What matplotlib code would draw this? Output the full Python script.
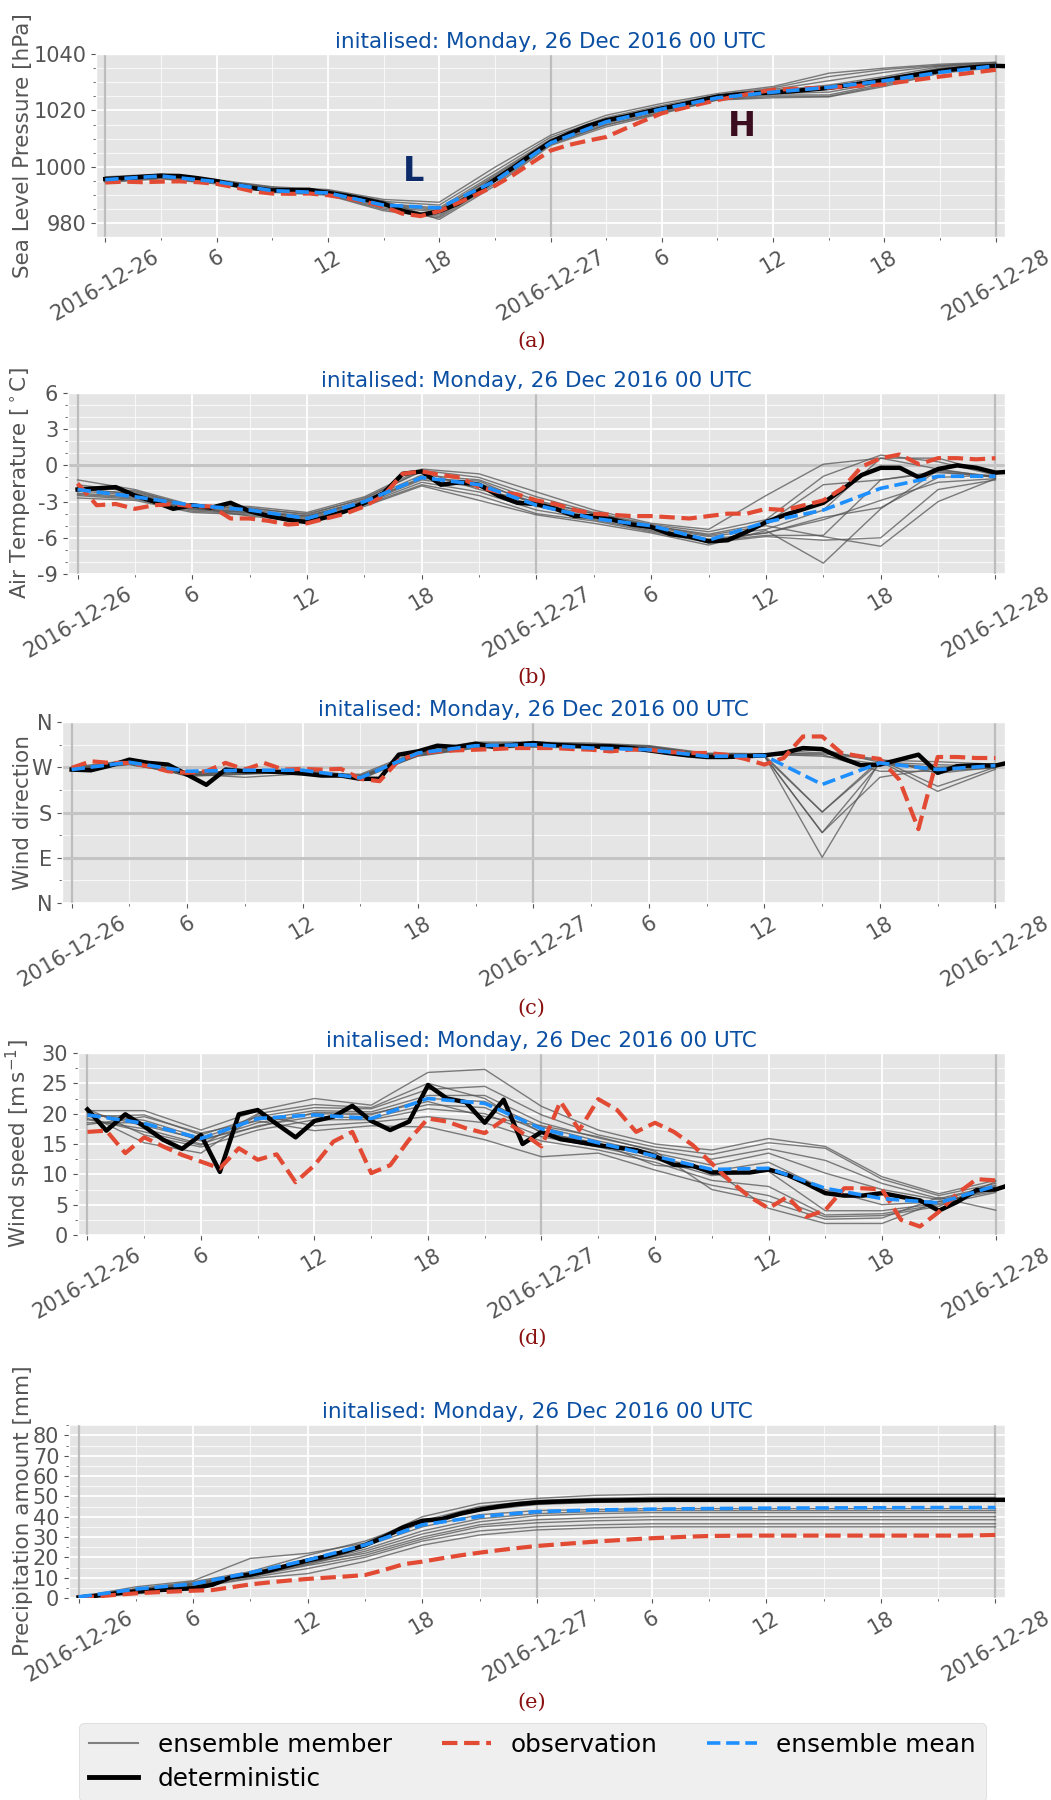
import numpy as np
import matplotlib
matplotlib.use('Agg')
import matplotlib.pyplot as plt
from matplotlib.ticker import MultipleLocator
from matplotlib.lines import Line2D

plt.style.use('ggplot')
plt.rcParams['axes.unicode_minus'] = False

##################### PLOT SETTINGS #####################
title_text = 'initalised: Monday, 26 Dec 2016 00 UTC'
title_color = '#0b4fa3'
caption_color = '#8b1010'
member_color = '#555555'
obs_color = '#e24a33'
mean_color = '#1e8fff'
tick_size = 15
label_size = 15.5
W, H = 1051, 1800
###################################################################

# lead time [h] after 26 Dec 2016 00 UTC
det_hours = list(range(50))
obs_hours = list(range(49))
ens_hours = list(range(0, 49, 3))
xtick_hours = [0, 6, 12, 18, 24, 30, 36, 42, 48]
xtick_labels = ['2016-12-26', '6', '12', '18', '2016-12-27', '6', '12', '18', '2016-12-28']

# ---------------- (a) sea level pressure [hPa] ----------------
slp_members = [
    [996.5, 997.5, 995.5, 993.0, 992.0, 988.5, 987.5, 999.9, 1011.2, 1018.3, 1022.5, 1026.0, 1028.5, 1033.2, 1035.0, 1036.4, 1037.1],
    [996.0, 997.2, 995.2, 992.5, 991.8, 987.8, 986.5, 998.5, 1010.5, 1017.5, 1021.8, 1025.5, 1028.0, 1032.0, 1034.5, 1036.0, 1037.0],
    [995.8, 997.0, 995.0, 992.2, 991.5, 987.0, 985.5, 997.5, 1009.8, 1017.0, 1021.2, 1025.2, 1027.5, 1030.5, 1033.5, 1035.8, 1036.8],
    [995.5, 996.8, 994.8, 992.0, 991.0, 986.5, 984.5, 997.0, 1009.5, 1016.5, 1020.8, 1024.8, 1027.0, 1029.0, 1032.0, 1035.5, 1036.5],
    [995.2, 996.5, 994.6, 991.8, 990.8, 986.0, 984.0, 996.0, 1009.0, 1016.0, 1020.5, 1024.5, 1026.5, 1027.5, 1031.0, 1035.0, 1036.2],
    [995.0, 996.3, 994.4, 991.5, 990.5, 985.5, 983.0, 995.5, 1008.5, 1015.5, 1020.0, 1024.2, 1026.0, 1026.5, 1030.0, 1034.5, 1036.0],
    [994.8, 996.0, 994.2, 991.2, 990.2, 985.0, 982.5, 995.0, 1008.2, 1015.0, 1019.5, 1024.0, 1025.5, 1025.5, 1029.5, 1034.0, 1035.8],
    [994.5, 995.8, 994.0, 991.0, 990.0, 984.5, 982.0, 994.0, 1008.0, 1014.8, 1019.2, 1023.8, 1025.0, 1025.0, 1029.0, 1033.5, 1035.5],
    [996.2, 997.3, 995.3, 992.8, 991.6, 988.0, 981.4, 993.3, 1007.6, 1014.2, 1018.9, 1023.7, 1024.5, 1024.8, 1028.5, 1033.2, 1035.2],
    [995.6, 996.9, 994.9, 992.1, 991.2, 986.8, 985.0, 996.5, 1009.2, 1016.2, 1020.6, 1024.6, 1026.8, 1028.2, 1031.5, 1034.8, 1036.2],
]
slp_mean = [995.5, 996.8, 994.8, 991.6, 990.8, 986.5, 985.5, 995.0, 1008.5, 1016.0, 1020.5,
            1024.5, 1026.5, 1028.2, 1030.5, 1033.5, 1035.8]
slp_det = [995.7, 996.1, 996.5, 996.9, 996.8, 996.0, 995.0, 993.6, 992.5, 991.7,
           991.8, 991.9, 990.8, 989.8, 988.5, 987.0, 984.5, 983.0, 984.3, 987.0,
           991.0, 995.5, 999.8, 1004.5, 1008.8, 1011.8, 1014.5, 1016.5, 1017.8, 1019.3,
           1020.7, 1022.0, 1023.5, 1024.9, 1025.6, 1026.1, 1026.4, 1026.8, 1027.4, 1028.0,
           1028.9, 1029.8, 1030.8, 1031.9, 1033.0, 1034.0, 1034.8, 1035.4, 1035.8, 1035.6]
slp_obs = [994.5, 994.8, 994.6, 994.8, 994.9, 994.6, 994.0, 992.8, 991.3, 990.6,
           990.5, 990.6, 990.0, 989.0, 987.7, 986.0, 983.5, 982.6, 984.4, 987.2,
           990.2, 993.3, 997.2, 1001.5, 1005.8, 1007.8, 1009.3, 1010.6, 1013.5, 1016.3,
           1019.0, 1020.6, 1022.2, 1023.7, 1025.0, 1026.3, 1027.3, 1027.6, 1027.9, 1028.1,
           1028.5, 1028.9, 1029.3, 1030.2, 1031.1, 1032.0, 1032.8, 1033.6, 1034.4]

# ---------------- (b) air temperature [C] ----------------
t2m_members = [
    [-1.2, -2.0, -3.3, -3.4, -3.9, -2.6, -0.3, -0.7, -2.2, -3.7, -4.8, -5.3, -2.5, 0.1, 0.6, 0.6, -0.7],
    [-1.6, -2.2, -3.4, -3.6, -4.0, -2.8, -0.4, -1.0, -2.6, -3.9, -4.9, -5.5, -4.5, -0.9, 0.85, 0.3, -0.8],
    [-1.9, -2.4, -3.5, -3.7, -4.2, -2.9, -0.8, -1.2, -2.9, -4.0, -5.0, -5.7, -4.8, -1.6, -1.2, -0.6, -0.9],
    [-2.1, -2.5, -3.6, -3.8, -4.3, -3.0, -1.0, -1.5, -3.1, -4.2, -5.1, -5.9, -5.3, -3.7, 0.6, -0.3, -1.0],
    [-2.3, -2.6, -3.7, -3.9, -4.4, -3.1, -1.2, -1.8, -3.4, -4.3, -5.2, -6.1, -5.6, -4.5, -2.9, -1.4, -1.1],
    [-2.5, -2.8, -3.8, -4.0, -4.5, -3.2, -1.4, -2.2, -3.7, -4.5, -5.4, -6.3, -5.8, -5.8, -1.2, -0.5, -1.0],
    [-2.7, -2.9, -3.9, -4.1, -4.6, -3.3, -1.6, -2.5, -4.0, -4.6, -5.5, -6.4, -5.9, -6.2, -6.0, -2.0, -1.2],
    [-2.0, -2.3, -3.5, -4.2, -4.7, -3.4, -1.7, -2.9, -4.1, -4.8, -5.6, -6.6, -5.4, -8.1, -3.6, -0.4, -0.9],
    [-1.8, -2.1, -3.4, -3.5, -4.1, -2.7, -0.5, -2.0, -3.0, -4.0, -5.0, -5.8, -5.0, -5.9, -6.7, -3.0, -1.1],
    [-2.4, -2.7, -3.6, -3.9, -4.2, -3.0, -1.1, -1.3, -3.3, -4.4, -5.3, -6.2, -5.6, -4.3, -3.5, -1.0, -0.8],
]
t2m_mean = [-2.0, -2.6, -3.3, -3.7, -4.4, -3.0, -1.0, -1.6, -3.3, -4.4, -5.0, -6.2, -4.7, -3.7, -1.9, -0.9, -0.9]
t2m_det = [-2.0, -1.9, -1.8, -2.5, -3.0, -3.6, -3.3, -3.5, -3.1, -3.8,
           -4.2, -4.5, -4.7, -4.3, -3.8, -3.1, -2.3, -0.7, -0.5, -1.6,
           -1.4, -1.6, -2.5, -3.1, -3.2, -3.6, -4.2, -4.2, -4.5, -4.9,
           -5.1, -5.7, -5.9, -6.3, -6.2, -5.5, -4.7, -4.1, -3.6, -3.1,
           -2.0, -0.8, -0.2, -0.2, -1.0, -0.3, 0.0, -0.2, -0.6, -0.5]
t2m_obs = [-1.5, -3.3, -3.2, -3.6, -3.3, -3.2, -3.4, -3.4, -4.4, -4.4,
           -4.6, -4.9, -4.8, -4.4, -4.0, -3.4, -2.5, -0.7, -0.5, -0.8,
           -1.0, -1.8, -2.2, -2.4, -2.9, -3.2, -3.7, -4.0, -4.1, -4.2,
           -4.2, -4.3, -4.4, -4.2, -4.0, -4.0, -3.6, -3.7, -3.3, -2.9,
           -1.9, -0.1, 0.6, 0.9, 0.1, 0.6, 0.6, 0.5, 0.6]

# ---------------- (c) wind direction [deg] ----------------
wdir_members = [
    [268, 278, 258, 262, 262, 250, 300, 318, 318, 316, 312, 297, 296, 305, 280, 265, 268],
    [266, 276, 256, 258, 260, 252, 298, 315, 315, 313, 310, 296, 295, 300, 286, 258, 270],
    [264, 280, 260, 260, 258, 248, 296, 312, 314, 312, 308, 294, 294, 181, 280, 275, 272],
    [262, 282, 254, 264, 264, 246, 294, 310, 312, 310, 306, 292, 292, 140, 278, 270, 274],
    [270, 284, 252, 256, 261, 254, 292, 308, 310, 308, 304, 290, 293, 91, 282, 222, 266],
    [265, 275, 257, 250, 257, 256, 302, 320, 320, 318, 313, 298, 297, 297, 284, 281, 276],
    [267, 279, 259, 263, 263, 249, 297, 314, 316, 314, 309, 295, 294, 295, 262, 262, 270],
    [263, 277, 255, 259, 259, 251, 295, 311, 313, 311, 307, 293, 292, 140, 250, 268, 275],
    [269, 281, 261, 261, 265, 253, 299, 316, 317, 315, 311, 296, 296, 292, 276, 268, 272],
    [266, 283, 253, 257, 262, 247, 293, 309, 311, 309, 305, 291, 291, 181, 285, 232, 270],
]
wdir_mean = [265.4, 279.9, 262.1, 264.1, 264.1, 249.0, 298.3, 312.8, 314.8, 308.2, 304.9,
             291.7, 293.0, 235.8, 278.6, 265.4, 273.3]
wdir_det = [265.4, 264.0, 273.3, 285.1, 278.6, 275.3, 255.5, 235.1, 265.4, 262.1,
            262.1, 260.1, 257.5, 253.5, 253.5, 247.0, 247.0, 295.0, 301.6, 312.8,
            310.2, 316.8, 310.2, 314.8, 318.1, 314.8, 312.8, 311.5, 311.5, 308.2,
            303.6, 298.3, 293.7, 290.4, 290.4, 291.7, 293.7, 298.3, 308.2, 306.2,
            288.4, 274.0, 275.3, 285.1, 295.0, 258.8, 272.0, 274.0, 273.3, 281.9]
wdir_obs = [268.7, 281.9, 278.6, 278.6, 272.0, 262.1, 258.8, 262.1, 278.6, 265.4,
            278.6, 265.4, 266.7, 265.4, 266.7, 247.0, 242.3, 283.8, 297.0, 301.6,
            303.6, 304.9, 306.2, 308.2, 308.2, 308.2, 306.2, 304.9, 301.6, 304.9,
            304.9, 300.3, 298.3, 298.3, 295.0, 286.5, 275.3, 288.4, 331.2, 331.2,
            298.3, 291.7, 286.5, 245.6, 146.9, 290.4, 290.4, 288.4, 288.4]

# ---------------- (d) wind speed [m/s] ----------------
wspd_members = [
    [20.5, 20.5, 17.3, 20.5, 22.5, 21.4, 26.8, 27.3, 21.2, 17.3, 15.0, 14.0, 15.9, 14.6, 9.6, 6.8, 9.0],
    [19.5, 19.8, 16.5, 19.5, 21.0, 20.8, 24.0, 24.5, 19.8, 16.5, 14.5, 13.3, 15.2, 14.3, 9.2, 6.5, 8.5],
    [20.0, 18.9, 16.0, 19.0, 20.5, 20.3, 23.0, 23.0, 18.5, 16.0, 14.0, 12.5, 14.2, 12.3, 8.5, 6.0, 8.2],
    [18.5, 18.5, 15.5, 18.5, 20.0, 19.8, 22.5, 22.0, 17.8, 15.5, 13.5, 11.5, 13.5, 10.2, 7.5, 5.8, 8.0],
    [19.0, 17.5, 15.0, 18.0, 19.5, 19.3, 21.5, 21.0, 17.0, 15.0, 13.0, 10.5, 12.0, 7.5, 5.0, 5.5, 7.5],
    [20.8, 16.5, 14.5, 17.3, 19.0, 19.0, 20.8, 20.0, 16.2, 14.5, 12.5, 9.8, 10.5, 4.0, 4.0, 5.2, 7.8],
    [19.8, 15.2, 13.5, 19.8, 18.0, 18.6, 19.5, 18.5, 15.5, 14.0, 12.0, 9.0, 8.0, 3.3, 3.5, 5.0, 7.0],
    [18.2, 19.5, 16.8, 18.8, 17.2, 18.0, 17.8, 15.7, 12.9, 13.5, 10.7, 8.2, 6.5, 3.0, 3.2, 4.7, 8.8],
    [20.2, 18.0, 15.8, 17.8, 20.2, 20.0, 22.0, 19.5, 18.0, 16.2, 13.8, 7.5, 5.5, 2.6, 2.8, 6.2, 4.1],
    [19.2, 17.0, 14.8, 20.0, 21.5, 21.0, 25.0, 22.5, 16.8, 15.2, 11.5, 10.8, 4.4, 1.9, 1.9, 5.5, 7.2],
]
wspd_mean = [19.8, 18.4, 15.9, 19.2, 19.8, 19.2, 22.5, 21.7, 17.5, 15.2, 13.0, 10.8, 11.0, 7.7, 6.0, 5.3, 8.1]
wspd_det = [20.7, 17.2, 19.9, 17.9, 15.7, 14.2, 16.5, 10.4, 19.9, 20.6,
            18.3, 16.1, 18.8, 19.5, 21.3, 18.8, 17.3, 18.7, 24.7, 22.5,
            21.9, 18.5, 22.3, 15.0, 17.0, 15.8, 15.3, 14.8, 14.4, 14.0,
            13.0, 11.6, 11.4, 10.3, 10.3, 10.3, 10.8, 9.9, 8.5, 6.9,
            6.5, 6.5, 6.9, 6.3, 5.7, 4.0, 5.5, 7.4, 7.5, 8.5]
wspd_obs = [17.0, 17.2, 13.5, 16.1, 14.6, 13.2, 12.1, 11.0, 14.3, 12.4,
            13.3, 8.7, 11.5, 15.4, 17.0, 10.2, 11.5, 15.7, 19.2, 18.7,
            17.6, 16.8, 19.0, 16.8, 14.6, 22.0, 17.3, 22.4, 20.6, 17.0,
            18.5, 17.0, 14.8, 11.8, 8.8, 6.3, 4.4, 6.3, 3.0, 4.1,
            7.7, 7.7, 7.5, 2.5, 1.4, 3.8, 6.9, 9.2, 9.0]

# ---------------- (e) accumulated precipitation [mm] ----------------
prec_members = [
    [0.5, 5.5, 8.5, 19.5, 22.0, 27.0, 40.0, 46.5, 49.0, 50.5, 51.0, 51.0, 51.0, 51.0, 51.0, 51.0, 51.0],
    [0.4, 4.5, 8.0, 13.0, 21.0, 28.0, 38.0, 45.0, 48.0, 49.0, 49.5, 49.5, 49.5, 49.5, 49.5, 49.5, 49.5],
    [0.3, 4.0, 7.5, 12.5, 19.0, 26.0, 37.0, 43.0, 46.0, 47.0, 47.5, 47.5, 47.5, 47.5, 47.5, 47.5, 47.5],
    [0.5, 4.5, 7.0, 12.0, 18.0, 25.5, 35.0, 41.0, 43.0, 43.5, 44.0, 44.0, 44.0, 44.0, 44.0, 44.0, 44.0],
    [0.2, 3.5, 6.5, 11.5, 17.0, 24.0, 33.0, 39.0, 41.5, 42.5, 43.0, 43.0, 43.0, 43.0, 43.0, 43.0, 43.0],
    [0.4, 3.0, 6.0, 11.0, 16.5, 23.0, 31.5, 37.5, 40.5, 41.5, 42.0, 42.0, 42.0, 42.0, 42.0, 42.0, 42.0],
    [0.3, 3.5, 7.0, 12.0, 17.5, 22.0, 30.0, 36.0, 38.5, 39.5, 40.0, 40.0, 40.0, 40.0, 40.0, 40.0, 40.0],
    [0.2, 3.0, 6.5, 10.5, 16.0, 21.0, 29.0, 35.0, 37.0, 38.0, 38.5, 38.5, 38.5, 38.5, 38.5, 38.5, 38.5],
    [0.1, 2.5, 5.5, 10.0, 14.5, 20.0, 28.0, 33.0, 35.0, 36.0, 36.5, 36.5, 36.5, 36.5, 36.5, 36.5, 36.5],
    [0.1, 2.0, 5.0, 9.5, 12.0, 18.0, 26.0, 31.0, 33.5, 34.5, 35.0, 35.0, 35.0, 35.0, 35.0, 35.0, 35.0],
]
prec_mean = [0.5, 4.4, 6.9, 12.5, 18.7, 26.1, 36.0, 40.1, 42.5, 43.3, 43.7, 44.0, 44.2, 44.3, 44.4, 44.5, 44.5]
prec_det = [0.3, 1.2, 2.3, 3.2, 3.8, 4.3, 4.8, 6.5, 10.2, 11.5,
            13.5, 16.0, 18.5, 20.5, 23.0, 26.0, 30.0, 34.8, 38.0, 38.8,
            41.5, 43.5, 45.0, 46.2, 47.0, 47.4, 47.7, 47.9, 48.0, 48.1,
            48.2, 48.3, 48.3, 48.3, 48.3, 48.3, 48.3, 48.3, 48.3, 48.3,
            48.3, 48.3, 48.3, 48.3, 48.3, 48.3, 48.3, 48.3, 48.3, 48.3]
prec_obs = [0.0, 0.8, 1.6, 2.3, 2.8, 3.2, 3.6, 3.9, 5.3, 6.7,
            7.7, 8.6, 9.4, 10.0, 10.6, 11.3, 13.8, 16.6, 17.9, 19.5,
            21.0, 22.3, 23.5, 24.6, 25.6, 26.3, 27.0, 27.7, 28.3, 28.9,
            29.4, 29.8, 30.2, 30.5, 30.6, 30.7, 30.7, 30.7, 30.7, 30.7,
            30.7, 30.7, 30.7, 30.7, 30.7, 30.7, 30.7, 30.8, 31.0]


def rect(left, right, top, bottom):
    # pixel box -> figure fraction
    return [left / W, 1 - bottom / H, (right - left) / W, (bottom - top) / H]


panels = [
    dict(members=slp_members, mean=slp_mean, det=slp_det, obs=slp_obs,
         ylabel='Sea Level Pressure [hPa]', ylim=(975.2, 1040), yticks=[980, 1000, 1020, 1040],
         yticklabels=None, yminor=5, box=rect(96, 1005, 54, 237), hlines=[],
         caption='(a)', caption_y=341),
    dict(members=t2m_members, mean=t2m_mean, det=t2m_det, obs=t2m_obs,
         ylabel='Air Temperature [$^\\circ$C]', ylim=(-9, 6), yticks=[-9, -6, -3, 0, 3, 6],
         yticklabels=None, yminor=1, box=rect(68, 1005, 393, 574), hlines=[0],
         caption='(b)', caption_y=677),
    dict(members=wdir_members, mean=wdir_mean, det=wdir_det, obs=wdir_obs,
         ylabel='Wind direction', ylim=(0, 360), yticks=[0, 90, 180, 270, 360],
         yticklabels=['N', 'E', 'S', 'W', 'N'], yminor=45, box=rect(62, 1005, 722, 903),
         hlines=[90, 180, 270], caption='(c)', caption_y=1008),
    dict(members=wspd_members, mean=wspd_mean, det=wspd_det, obs=wspd_obs,
         ylabel='Wind speed [m$\\,$s$^{-1}$]', ylim=(0, 30), yticks=[0, 5, 10, 15, 20, 25, 30],
         yticklabels=None, yminor=2.5, box=rect(78, 1005, 1053, 1235), hlines=[],
         caption='(d)', caption_y=1338),
    dict(members=prec_members, mean=prec_mean, det=prec_det, obs=prec_obs,
         ylabel='Precipitation amount [mm]', ylim=(0, 85.6), yticks=list(range(0, 81, 10)),
         yticklabels=None, yminor=5, box=rect(69, 1005, 1424, 1598), hlines=[],
         caption='(e)', caption_y=1702),
]

fig = plt.figure(figsize=(W / 100, H / 100), dpi=100)

for p in panels:
    ax = fig.add_axes(p['box'])
    for m in p['members']:
        ax.plot(ens_hours, m, color=member_color, lw=1, alpha=0.75, zorder=3)
    ax.plot(det_hours, p['det'], color='black', lw=3.2, zorder=4)
    ax.plot(obs_hours, p['obs'], color=obs_color, lw=3, ls='--', zorder=5)
    ax.plot(ens_hours, p['mean'], color=mean_color, lw=2.6, ls='--', zorder=6)

    for d in [0, 24, 48]:
        ax.axvline(d, color='#bdbdbd', lw=1.6, zorder=2)
    for h in p['hlines']:
        ax.axhline(h, color='#c4c4c4', lw=2.2, zorder=2)

    ax.set_xlim(-0.5, 48.5)
    ax.set_ylim(p['ylim'])
    ax.set_xticks(xtick_hours)
    ax.set_xticklabels(xtick_labels, rotation=30)
    ax.xaxis.set_minor_locator(MultipleLocator(3))
    ax.set_yticks(p['yticks'])
    if p['yticklabels']:
        ax.set_yticklabels(p['yticklabels'])
    ax.yaxis.set_minor_locator(MultipleLocator(p['yminor']))
    ax.tick_params(which='both', labelsize=tick_size, colors='#555555')
    ax.grid(which='major', color='white', lw=1.3)
    ax.grid(which='minor', color='white', lw=0.8, alpha=0.7)

    ax.set_title(title_text, color=title_color, fontsize=15.5, pad=4)
    ax.set_ylabel(p['ylabel'], fontsize=label_size, color='#555555')
    b = p['box']
    ax.yaxis.set_label_coords(33 / W, b[1] + b[3] / 2, transform=fig.transFigure)

    fig.text(0.506, 1 - p['caption_y'] / H, p['caption'], ha='center', va='center',
             fontsize=15, family='DejaVu Serif', color=caption_color)

    if p['caption'] == '(a)':
        ax.text(16.6, 998.5, 'L', fontsize=24, fontweight='bold', color='#0d2b6b',
                ha='center', va='center', zorder=7)
        ax.text(34.3, 1014.2, 'H', fontsize=24, fontweight='bold', color='#3b0d1e',
                ha='center', va='center', zorder=7)

handles = [
    Line2D([], [], color='#808080', lw=1.5),
    Line2D([], [], color='black', lw=3.5),
    Line2D([], [], color=obs_color, lw=3, ls='--'),
    Line2D([], [], color=mean_color, lw=2.6, ls='--'),
]
labels = ['ensemble member', 'deterministic', 'observation', 'ensemble mean']
fig.legend(handles, labels, loc='upper left', bbox_to_anchor=(79 / W, 1 - 1723 / H),
           ncol=3, fontsize=17.8, frameon=True, facecolor='#ebebeb', edgecolor='#cfcfcf',
           handlelength=2.0, handletextpad=0.8, columnspacing=2.0, borderaxespad=0,
           labelspacing=0.4)

fig.savefig('out.png', dpi=100)
